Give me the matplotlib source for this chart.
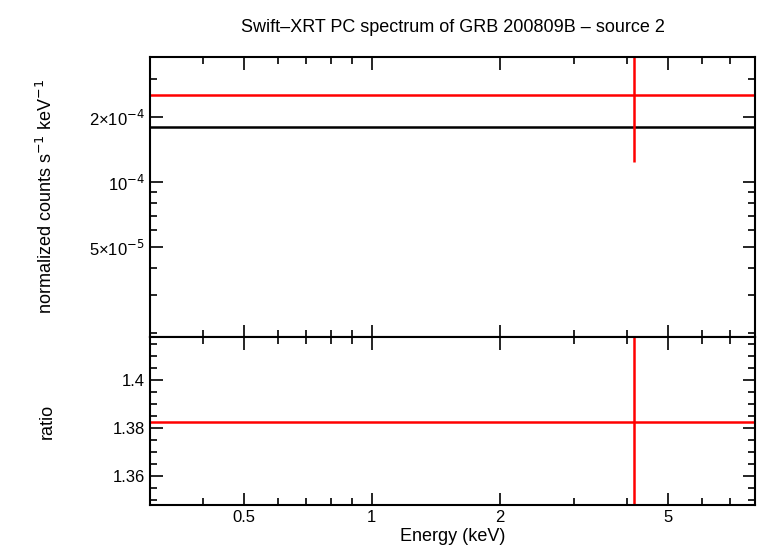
import numpy as np
import matplotlib
matplotlib.use("Agg")
import matplotlib.pyplot as plt
from matplotlib.ticker import FixedLocator, NullFormatter

plt.rcParams["font.family"] = "Liberation Sans"

# data
e_lo, e_hi = [0.3], [8.0]
e_mid = [4.15]
flux = [2.53e-4]
flux_err = [1.29e-4]
model = [1.80e-4]
ratio = [1.3825]
ratio_err = [0.5]

W, H = 758, 556
fig = plt.figure(figsize=(W / 100, H / 100), dpi=100)
ax1 = fig.add_axes([150 / W, 1 - 337 / H, 605 / W, 280 / H])
ax2 = fig.add_axes([150 / W, 1 - 505 / H, 605 / W, 168 / H], sharex=ax1)

for ax in (ax1, ax2):
    ax.set_xscale("log")
    ax.set_xlim(0.3, 8.0)
    ax.tick_params(which="both", direction="in", top=True, right=True,
                   labelsize=12, width=1.2)
    ax.tick_params(which="major", length=9)
    ax.tick_params(which="minor", length=5)
    for s in ax.spines.values():
        s.set_linewidth(1.5)

ax1.set_yscale("log")
ax1.set_ylim(1.92e-5, 3.8e-4)
ax1.yaxis.set_major_locator(FixedLocator([5e-5, 1e-4, 2e-4]))
ax1.set_yticklabels(["5×10$^{-5}$", "10$^{-4}$", "2×10$^{-4}$"])
ax1.yaxis.set_minor_locator(FixedLocator([2e-5, 3e-5, 4e-5, 6e-5, 7e-5, 8e-5, 9e-5, 3e-4]))
ax1.yaxis.set_minor_formatter(NullFormatter())
ax1.tick_params(labelbottom=False)

ax1.hlines(model, e_lo, e_hi, color="black", lw=1.8)
ax1.hlines(flux, e_lo, e_hi, color="red", lw=1.8)
ax1.errorbar(e_mid, flux, yerr=flux_err, fmt="none", ecolor="red", elinewidth=1.8)
ax1.set_ylabel("normalized counts s$^{-1}$ keV$^{-1}$", fontsize=13)
ax1.set_title("Swift–XRT PC spectrum of GRB 200809B – source 2", fontsize=13, pad=18)

ax2.set_ylim(1.348, 1.418)
ax2.set_yticks([1.36, 1.38, 1.4])
ax2.set_yticklabels(["1.36", "1.38", "1.4"])
ax2.yaxis.set_minor_locator(FixedLocator(np.arange(1.35, 1.42, 0.005)))
ax2.hlines(ratio, e_lo, e_hi, color="red", lw=1.8)
ax2.errorbar(e_mid, ratio, yerr=ratio_err, fmt="none", ecolor="red", elinewidth=1.8)
ax2.set_ylabel("ratio", fontsize=13)
ax2.set_xlabel("Energy (keV)", fontsize=13, labelpad=2)
ax2.xaxis.set_major_locator(FixedLocator([0.5, 1, 2, 5]))
ax2.set_xticklabels(["0.5", "1", "2", "5"])
ax2.xaxis.set_minor_locator(FixedLocator([0.3, 0.4, 0.6, 0.7, 0.8, 0.9, 3, 4, 6, 7, 8]))
ax2.xaxis.set_minor_formatter(NullFormatter())
ax1.yaxis.set_label_coords(-0.155, 0.5)
ax2.yaxis.set_label_coords(-0.155, 0.5)

fig.savefig("out.png", dpi=100)
